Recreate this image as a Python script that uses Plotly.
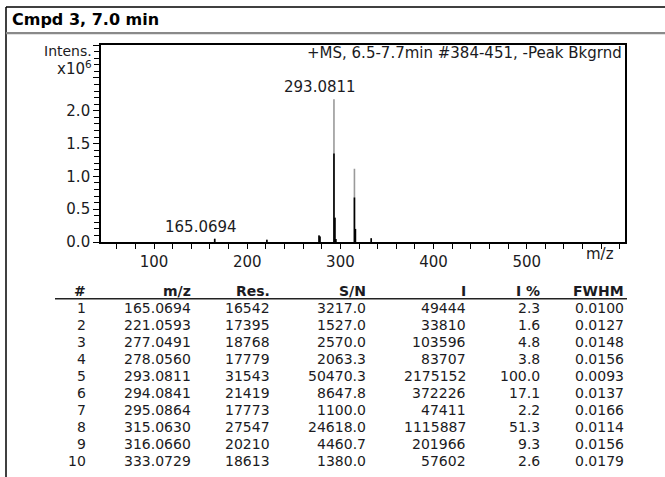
import plotly.graph_objects as go

# ── Peak list (Bruker-style report) ──────────────────────────────────────────
peak_no = [1, 2, 3, 4, 5, 6, 7, 8, 9, 10]
mz = [165.0694, 221.0593, 277.0491, 278.0560, 293.0811, 294.0841,
      295.0864, 315.0630, 316.0660, 333.0729]
res = [16542, 17395, 18768, 17779, 31543, 21419, 17773, 27547, 20210, 18613]
sn = [3217.0, 1527.0, 2570.0, 2063.3, 50470.3, 8647.8, 1100.0, 24618.0,
      4460.7, 1380.0]
intensity = [49444, 33810, 103596, 83707, 2175152, 372226, 47411, 1115887,
             201966, 57602]
rel_pct = [2.3, 1.6, 4.8, 3.8, 100.0, 17.1, 2.2, 51.3, 9.3, 2.6]
fwhm = [0.0100, 0.0127, 0.0148, 0.0156, 0.0093, 0.0137, 0.0166, 0.0114,
        0.0156, 0.0179]

# dark (dense) part of each profile peak (x10^6)
core_height = [0.049, 0.034, 0.10, 0.084, 1.35, 0.37, 0.047, 0.68, 0.20, 0.058]

labelled = ["165.0694", "293.0811"]

W, H = 665, 477
FIG_H = 488
FONT = "DejaVu Sans, Arial, sans-serif"
TXT = "#1b1b22"


def px(x):
    return x / W


def py(y):
    return 1 - y / H


# ── Spectrum sticks ──────────────────────────────────────────────────────────
gx, gy, kx, ky = [], [], [], []
for m, i, c in zip(mz, intensity, core_height):
    gx += [m, m, None]
    gy += [0, i / 1e6, None]
    kx += [m, m, None]
    ky += [0, min(c, i / 1e6), None]

fig = go.Figure()
fig.add_trace(go.Scatter(x=gx, y=gy, mode="lines",
                         line=dict(color="#9a9a9a", width=1.6),
                         hoverinfo="skip", showlegend=False))
fig.add_trace(go.Scatter(x=kx, y=ky, mode="lines",
                         line=dict(color="#000000", width=1.6),
                         hoverinfo="skip", showlegend=False))

fig.update_layout(
    width=W, height=FIG_H,
    margin=dict(l=0, r=0, t=0, b=0),
    paper_bgcolor="white", plot_bgcolor="white",
    font=dict(family=FONT, size=15, color=TXT),
    showlegend=False,
)

fig.update_xaxes(
    domain=[px(101), px(625)],
    range=[43, 605.5],
    tickmode="array",
    tickvals=[100, 200, 300, 400, 500, 600],
    ticktext=["100", "200", "300", "400", "500", ""],
    ticks="outside", ticklen=5, tickwidth=1.3, tickcolor="#000",
    minor=dict(dtick=20, ticks="outside", ticklen=5, tickwidth=1.1, tickcolor="#000"),
    showline=True, linecolor="#000", linewidth=1.6, mirror=True,
    showgrid=False, zeroline=False,
    tickfont=dict(family=FONT, size=15, color=TXT),
)
fig.update_yaxes(
    domain=[py(241), py(45)],
    range=[0, 3.0],
    tickmode="array",
    tickvals=[0, 0.5, 1.0, 1.5, 2.0, 2.5, 3.0],
    ticktext=["0.0", "0.5", "1.0", "1.5", "2.0", "", ""],
    ticks="outside", ticklen=6, tickwidth=1.3, tickcolor="#000",
    minor=dict(dtick=0.1, ticks="outside", ticklen=5, tickwidth=1.1, tickcolor="#000"),
    showline=True, linecolor="#000", linewidth=1.6, mirror=True,
    showgrid=False, zeroline=False,
    tickfont=dict(family=FONT, size=15, color=TXT),
)

# ── Peak labels ──────────────────────────────────────────────────────────────
for m, i in zip(mz, intensity):
    lab = f"{m:.4f}"
    if lab in labelled:
        fig.add_annotation(x=m, y=i / 1e6, text=lab, showarrow=False,
                           xanchor="center", yanchor="bottom",
                           xshift=-14, yshift=1,
                           font=dict(family=FONT, size=15, color=TXT))

# axis captions
fig.add_annotation(xref="paper", yref="paper", x=px(94), y=py(51),
                   text="Intens.", showarrow=False, xanchor="right", yanchor="middle",
                   font=dict(family=FONT, size=14, color=TXT))
fig.add_annotation(xref="paper", yref="paper", x=px(94), y=py(68),
                   text="x10<sup>6</sup>", showarrow=False, xanchor="right",
                   yanchor="middle", font=dict(family=FONT, size=15, color=TXT))
fig.add_annotation(xref="paper", yref="paper", x=px(616), y=py(253),
                   text="m/z", showarrow=False, xanchor="right", yanchor="middle",
                   font=dict(family=FONT, size=15, color=TXT))
fig.add_annotation(xref="paper", yref="paper", x=px(624), y=py(53),
                   text="+MS, 6.5-7.7min #384-451, -Peak Bkgrnd", showarrow=False,
                   xanchor="right", yanchor="middle",
                   font=dict(family=FONT, size=15, color=TXT))

# ── Panel frame and title ────────────────────────────────────────────────────
fig.add_shape(type="line", xref="paper", yref="paper",
              x0=px(6), x1=1, y0=py(7), y1=py(7),
              line=dict(color="#000", width=1.5))
fig.add_shape(type="line", xref="paper", yref="paper",
              x0=px(6), x1=px(6), y0=py(7), y1=0,
              line=dict(color="#000", width=1.5))
fig.add_shape(type="line", xref="paper", yref="paper",
              x0=px(6), x1=1, y0=py(33), y1=py(33),
              line=dict(color="#8a8a8a", width=2.2))
fig.add_annotation(xref="paper", yref="paper", x=px(10), y=py(19),
                   text="<b>Cmpd 3, 7.0 min</b>", showarrow=False,
                   xanchor="left", yanchor="middle",
                   font=dict(family=FONT, size=16, color="#000"))

# ── Peak table ───────────────────────────────────────────────────────────────
col_right = [88, 193, 272, 368, 468, 542, 626]
headers = ["#", "m/z", "Res.", "S/N", "I", "I %", "FWHM"]
columns = [
    [str(n) for n in peak_no],
    [f"{v:.4f}" for v in mz],
    [str(v) for v in res],
    [f"{v:.1f}" for v in sn],
    [str(v) for v in intensity],
    [f"{v:.1f}" for v in rel_pct],
    [f"{v:.4f}" for v in fwhm],
]

for xr, h in zip(col_right, headers):
    fig.add_annotation(xref="paper", yref="paper", x=px(xr), y=py(289.5),
                       text=f"<b>{h}</b>", showarrow=False,
                       xanchor="right", yanchor="middle",
                       font=dict(family=FONT, size=14, color=TXT))
fig.add_shape(type="line", xref="paper", yref="paper",
              x0=px(55), x1=px(627), y0=py(297.5), y1=py(297.5),
              line=dict(color="#222", width=1.6))

row_y0, row_step = 306.5, 17.0
for ci, (xr, col) in enumerate(zip(col_right, columns)):
    for ri, val in enumerate(col):
        fig.add_annotation(xref="paper", yref="paper", x=px(xr),
                           y=py(row_y0 + ri * row_step),
                           text=val, showarrow=False,
                           xanchor="right", yanchor="middle",
                           font=dict(family=FONT, size=14, color=TXT))

fig.write_html(
    "out.html",
    config={"displayModeBar": False},
    post_script=(
        "document.body.style.margin='0px';"
        "document.body.style.overflow='hidden';"
        "document.documentElement.style.overflow='hidden';"
    ),
)
